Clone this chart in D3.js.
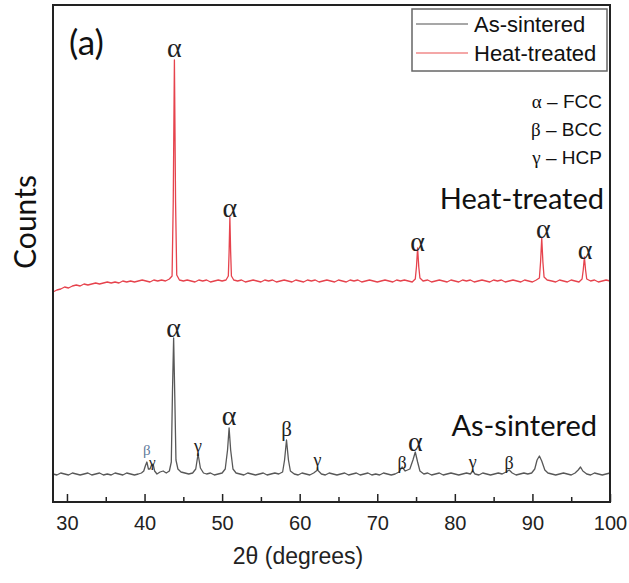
<!DOCTYPE html>
<html>
<head>
<meta charset="utf-8">
<script src="https://cdn.jsdelivr.net/npm/d3@7"></script>
<style>
  html, body { margin: 0; padding: 0; background: #fff; }
  svg { display: block; }
</style>
</head>
<body>
<svg id="chart" width="629" height="583"></svg>
<script>
// XRD patterns: [2θ (degrees), counts]
const asSintered = [
  [28.2,28],[28.7,27],[29.2,29],[29.7,28],[30.2,27],[30.7,29],[31.2,28],[31.7,27],[32.2,28],[32.7,29],
  [33.2,27],[33.7,28],[34.2,29],[34.7,27],[35.2,28],[35.7,27],[36.2,29],[36.7,28],[37.2,27],[37.7,29],
  [38.2,28],[38.7,27],[39.2,28],[39.6,29],[39.9,31],[40.1,36],[40.3,40],[40.5,33],[40.7,33],[40.9,37],
  [41.1,38],[41.3,31],[41.6,28],[42.0,30],[42.4,31],[42.8,29],[43.2,31],[43.45,40],[43.6,110],[43.75,164],
  [43.9,105],[44.05,42],[44.3,33],[44.7,30],[45.2,29],[45.7,28],[46.2,29],[46.6,33],[46.9,48],[47.2,34],
  [47.6,29],[48.0,28],[48.5,29],[49.0,27],[49.5,28],[50.0,29],[50.4,33],[50.7,52],[50.9,74],[51.1,52],
  [51.4,33],[51.8,29],[52.3,28],[52.8,27],[53.3,29],[53.8,28],[54.3,27],[54.8,28],[55.3,29],[55.8,27],
  [56.3,28],[56.8,29],[57.3,28],[57.8,30],[58.05,42],[58.3,62],[58.55,42],[58.8,31],[59.3,28],[59.8,27],
  [60.3,29],[60.8,28],[61.3,27],[61.8,29],[62.3,32],[62.8,28],[63.3,27],[63.8,29],[64.3,28],[64.8,27],
  [65.3,28],[65.8,29],[66.3,27],[66.8,28],[67.3,29],[67.8,27],[68.3,28],[68.8,29],[69.3,27],[69.8,28],
  [70.3,27],[70.8,29],[71.3,28],[71.8,27],[72.3,28],[72.8,30],[73.2,35],[73.6,31],[74.2,33],[74.6,42],
  [74.9,50],[75.2,40],[75.5,31],[76.0,28],[76.5,29],[77.0,27],[77.5,28],[78.0,29],[78.5,27],[79.0,28],
  [79.5,29],[80.0,28],[80.5,27],[81.0,28],[81.5,29],[82.0,28],[82.3,31],[82.6,28],[83.1,27],[83.6,29],
  [84.1,28],[84.6,27],[85.1,28],[85.6,29],[86.1,28],[86.6,30],[87.0,32],[87.4,29],[87.9,27],[88.4,28],
  [88.9,29],[89.4,28],[89.9,29],[90.3,33],[90.6,42],[90.9,46],[91.2,41],[91.6,32],[92.0,29],[92.5,28],
  [93.0,27],[93.5,28],[94.0,29],[94.5,28],[95.0,27],[95.5,29],[95.9,32],[96.2,35],[96.5,31],[97.0,28],
  [97.5,27],[98.0,29],[98.5,28],[99.0,27],[99.5,28],[100.0,29]
];

const heatTreated = [
  [28.2,210],[28.7,212],[29.2,213],[29.7,215],[30.2,214],[30.7,216],[31.2,217],[31.7,216],[32.2,218],[32.7,217],
  [33.2,218],[33.7,219],[34.2,218],[34.7,219],[35.2,220],[35.7,219],[36.2,220],[36.7,219],[37.2,221],[37.7,220],
  [38.2,221],[38.7,220],[39.2,221],[39.7,222],[40.2,221],[40.7,220],[41.2,222],[41.7,221],[42.2,222],[42.7,221],
  [43.2,223],[43.55,226],[43.7,300],[43.85,442],[44.0,300],[44.15,227],[44.5,222],[45.0,221],[45.5,222],[46.0,221],
  [46.5,220],[47.0,222],[47.5,221],[48.0,222],[48.5,220],[49.0,221],[49.5,222],[50.0,221],[50.5,222],[50.8,226],
  [50.9,250],[51.0,285],[51.1,250],[51.2,226],[51.5,222],[52.0,221],[52.5,222],[53.0,220],[53.5,221],[54.0,222],
  [54.5,221],[55.0,220],[55.5,222],[56.0,221],[56.5,222],[57.0,220],[57.5,221],[58.0,222],[58.5,221],[59.0,220],
  [59.5,222],[60.0,221],[60.5,220],[61.0,222],[61.5,221],[62.0,222],[62.5,220],[63.0,221],[63.5,222],[64.0,221],
  [64.5,220],[65.0,222],[65.5,221],[66.0,220],[66.5,222],[67.0,221],[67.5,222],[68.0,220],[68.5,221],[69.0,222],
  [69.5,221],[70.0,220],[70.5,221],[71.0,222],[71.5,221],[72.0,220],[72.5,222],[73.0,221],[73.5,222],[74.0,221],
  [74.5,220],[74.9,223],[75.05,235],[75.2,254],[75.35,235],[75.5,224],[75.9,221],[76.5,222],[77.0,220],[77.5,221],
  [78.0,222],[78.5,221],[79.0,220],[79.5,222],[80.0,221],[80.5,220],[81.0,222],[81.5,221],[82.0,222],[82.5,220],
  [83.0,221],[83.5,222],[84.0,221],[84.5,220],[85.0,222],[85.5,221],[86.0,222],[86.5,220],[87.0,221],[87.5,222],
  [88.0,221],[88.5,220],[89.0,222],[89.5,221],[90.0,220],[90.5,222],[90.9,224],[91.05,240],[91.2,264],[91.35,240],
  [91.5,225],[91.9,222],[92.5,221],[93.0,220],[93.5,222],[94.0,221],[94.5,220],[95.0,222],[95.5,221],[96.0,220],
  [96.4,223],[96.55,232],[96.7,245],[96.85,232],[97.0,223],[97.5,221],[98.0,222],[98.5,220],[99.0,221],[99.5,222],
  [100.0,221]
];

// Phase labels: [symbol, 2θ, counts, size class]
const heatTreatedLabels = [
  ["α",43.85,455,"big"],["α",51.0,295,"big"],["α",75.2,261,"big"],["α",91.4,274,"big"],["α",96.8,253,"big"]
];
const asSinteredLabels = [
  ["β",40.3,52,"tiny"],["γ",41.0,40,"tiny"],["α",43.75,175,"big"],["γ",46.9,56,"small"],["α",50.9,87,"big"],
  ["β",58.3,73,"mid"],["γ",62.3,42,"small"],["β",73.2,39,"small"],["α",74.9,61,"big"],["γ",82.3,40,"small"],
  ["β",87.0,39,"small"]
];

const xTicks = [30,40,50,60,70,80,90,100];
const xMinorTicks = [35,45,55,65,75,85,95];
const legendItems = [["As-sintered","#8a8a8a"],["Heat-treated","#f08a8a"]];
const phaseKey = [["α","FCC"],["β","BCC"],["γ","HCP"]];

const svg = d3.select("#chart");
const plotLeft = 53, plotRight = 610, plotTop = 5, plotBottom = 502;

const x = d3.scaleLinear().domain([28.2, 100]).range([plotLeft, plotRight]);
const y = d3.scaleLinear().domain([0, 497]).range([plotBottom, plotTop]);

const line = d3.line().x(d => x(d[0])).y(d => y(d[1]));

// traces
svg.append("path").datum(heatTreated)
  .attr("d", line).attr("fill", "none")
  .attr("stroke", "#e6434d").attr("stroke-width", 1.3).attr("stroke-linejoin", "round");
svg.append("path").datum(asSintered)
  .attr("d", line).attr("fill", "none")
  .attr("stroke", "#585858").attr("stroke-width", 1.3).attr("stroke-linejoin", "round");

// x axis with inward ticks
const xAxis = d3.axisBottom(x).tickValues(xTicks).tickSize(-8).tickPadding(14).tickFormat(d3.format("d"));
const gx = svg.append("g").attr("transform", `translate(0,${plotBottom})`).call(xAxis);
gx.select(".domain").remove();
gx.selectAll(".tick line").attr("stroke", "#222").attr("stroke-width", 1.5);
gx.selectAll(".tick text").attr("font-family", "Liberation Sans, Arial, sans-serif")
  .attr("font-size", 20).attr("fill", "#222");
svg.append("g").attr("transform", `translate(0,${plotBottom})`)
  .call(d3.axisBottom(x).tickValues(xMinorTicks).tickSize(-5).tickFormat(""))
  .call(g => g.select(".domain").remove())
  .selectAll(".tick line").attr("stroke", "#222").attr("stroke-width", 1.5);

// frame
svg.append("rect").attr("x", plotLeft).attr("y", plotTop)
  .attr("width", plotRight - plotLeft).attr("height", plotBottom - plotTop)
  .attr("fill", "none").attr("stroke", "#222").attr("stroke-width", 2);

// axis titles
svg.append("text").attr("x", 298).attr("y", 564).attr("text-anchor", "middle")
  .attr("font-family", "Liberation Sans, Arial, sans-serif").attr("font-size", 23).attr("fill", "#222")
  .text("2θ (degrees)");
svg.append("text").attr("transform", "translate(36,222) rotate(-90)").attr("text-anchor", "middle")
  .attr("font-family", "Lato, sans-serif").attr("font-size", 30).attr("fill", "#111")
  .text("Counts");

// panel tag and series captions
svg.append("text").attr("x", 69).attr("y", 55)
  .attr("font-family", "Lato, sans-serif").attr("font-size", 35).attr("fill", "#111").text("(a)");
svg.append("text").attr("x", 604).attr("y", 209).attr("text-anchor", "end")
  .attr("font-family", "Lato, sans-serif").attr("font-size", 29).attr("fill", "#111").text("Heat-treated");
svg.append("text").attr("x", 597).attr("y", 436).attr("text-anchor", "end")
  .attr("font-family", "Lato, sans-serif").attr("font-size", 29).attr("fill", "#111").text("As-sintered");

// phase labels
const labelSize = {big: 28, mid: 21, small: 18, tiny: 15};
function drawLabels(list) {
  svg.append("g").selectAll("text").data(list).join("text")
    .attr("x", d => x(d[1])).attr("y", d => y(d[2]))
    .attr("text-anchor", "middle").attr("dominant-baseline", "central")
    .attr("font-family", "Liberation Serif, Times New Roman, serif")
    .attr("font-size", d => labelSize[d[3]])
    .attr("fill", d => d[3] === "tiny" && d[0] === "β" ? "#5f7a9a" : "#222")
    .text(d => d[0]);
}
drawLabels(heatTreatedLabels);
drawLabels(asSinteredLabels);

// legend
const lg = svg.append("g");
lg.append("rect").attr("x", 412).attr("y", 9).attr("width", 195).attr("height", 62)
  .attr("fill", "#fff").attr("stroke", "#666").attr("stroke-width", 1.5);
legendItems.forEach((d, i) => {
  const yy = 24 + i * 29;
  lg.append("line").attr("x1", 416).attr("x2", 468).attr("y1", yy).attr("y2", yy)
    .attr("stroke", d[1]).attr("stroke-width", 1.5);
  lg.append("text").attr("x", 474).attr("y", yy).attr("dominant-baseline", "central")
    .attr("font-family", "Liberation Sans, Arial, sans-serif").attr("font-size", 22).attr("fill", "#111")
    .text(d[0]);
});

// phase key
phaseKey.forEach((d, i) => {
  const t = svg.append("text").attr("x", 602).attr("y", 101 + i * 28).attr("text-anchor", "end")
    .attr("dominant-baseline", "central").attr("font-size", 19).attr("fill", "#111");
  t.append("tspan").attr("font-family", "Liberation Serif, Times New Roman, serif").text(d[0]);
  t.append("tspan").attr("font-family", "Liberation Sans, Arial, sans-serif").text(" – " + d[1]);
});
</script>
</body>
</html>
